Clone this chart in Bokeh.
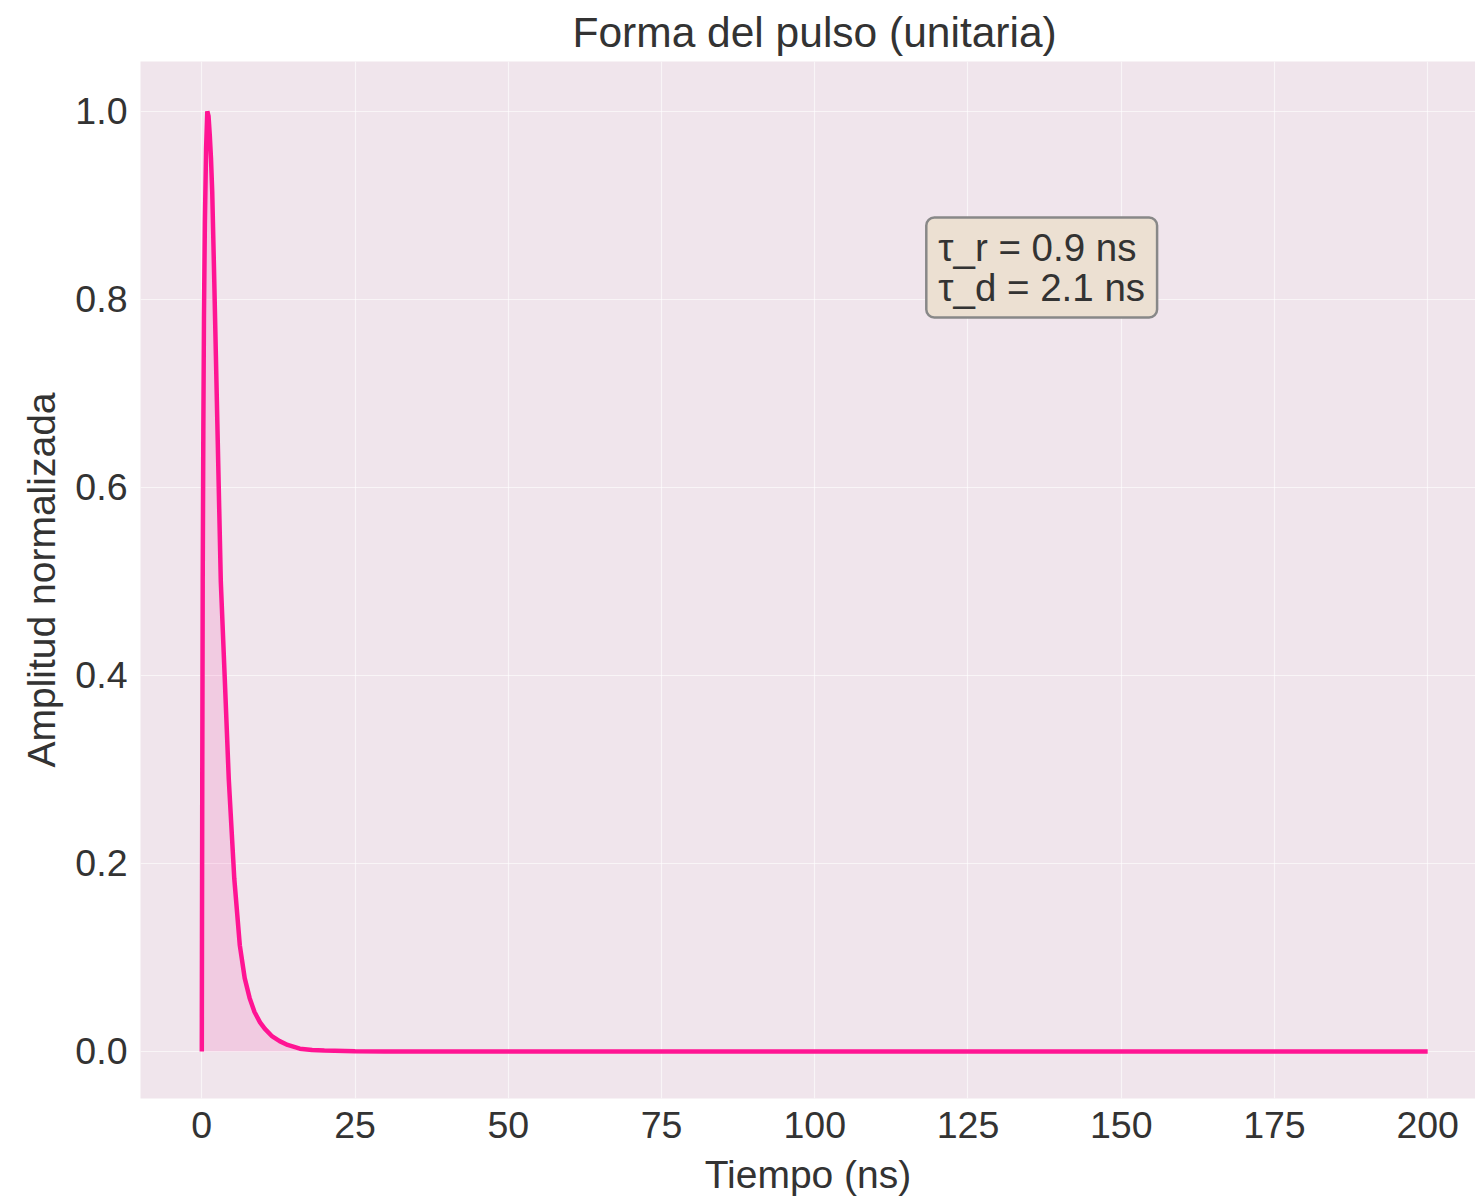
from bokeh.plotting import figure
from bokeh.models import Range1d, Label, FixedTicker, ColumnDataSource
from bokeh.embed import file_html
from bokeh.resources import INLINE

# Data
tiempo_ns = [0.0, 0.03, 0.08, 0.15, 0.25, 0.35, 0.5, 0.7, 0.9, 1.1, 1.3, 1.5, 1.7,
             2.0, 2.3, 2.6, 3.1, 3.75, 4.4, 5.3, 6.2, 7.0, 7.8, 8.6, 9.5, 10.3,
             11.5, 12.7, 14.0, 16.0, 18.0, 20.0, 25.0, 30.0, 50.0, 100.0, 150.0, 200.0]
amplitud = [0.0, 0.12, 0.3, 0.5, 0.66, 0.78, 0.88, 0.96, 1.0, 0.995, 0.975, 0.95, 0.915,
            0.83, 0.74, 0.65, 0.5, 0.396, 0.29, 0.184, 0.113, 0.078, 0.057, 0.042, 0.031, 0.024,
            0.016, 0.011, 0.007, 0.003, 0.0015, 0.001, 0.0003, 0.0, 0.0, 0.0, 0.0, 0.0]
x_ticks = [0, 25, 50, 75, 100, 125, 150, 175, 200]
y_ticks = [0.0, 0.2, 0.4, 0.6, 0.8, 1.0]
tau_r = 0.9
tau_d = 2.1

FONT = "Liberation Sans"
TXT = "#333333"

src = ColumnDataSource(data=dict(t=tiempo_ns, a=amplitud, z=[0.0] * len(tiempo_ns)))

p = figure(width=1475, height=1200, output_backend="svg", toolbar_location=None,
           x_range=Range1d(-10, 207.8), y_range=Range1d(-0.05, 1.053),
           min_border_left=140, min_border_right=0, min_border_top=60, min_border_bottom=102)

p.title.text = "Forma del pulso (unitaria)"
p.title.align = "left"
p.title.text_font = FONT
p.title.text_font_size = "42.5px"
p.title.text_font_style = "normal"
p.title.text_color = TXT
p.title.offset = 432
p.title.standoff = 12

p.background_fill_color = "#f0e5ec"
p.border_fill_color = "white"
p.outline_line_color = None

p.varea(x="t", y1="z", y2="a", source=src, fill_color="#ff1493", fill_alpha=0.12)
p.line(x="t", y="a", source=src, line_color="#ff1493", line_width=4.5)

for ax in (p.xaxis[0], p.yaxis[0]):
    ax.axis_line_color = None
    ax.major_tick_line_color = None
    ax.minor_tick_line_color = None
    ax.major_label_text_font = FONT
    ax.major_label_text_font_size = "37.5px"
    ax.major_label_text_color = TXT
    ax.axis_label_text_font = FONT
    ax.axis_label_text_font_size = "39px"
    ax.axis_label_text_font_style = "normal"
    ax.axis_label_text_color = TXT

p.xaxis.ticker = FixedTicker(ticks=x_ticks)
p.yaxis.ticker = FixedTicker(ticks=y_ticks)
p.xaxis.major_label_overrides = {v: str(v) for v in x_ticks}
p.yaxis.major_label_overrides = {v: f"{v:.1f}" for v in y_ticks}
p.xaxis.major_label_standoff = 7
p.yaxis.major_label_standoff = 7
p.xaxis.axis_label = "Tiempo (ns)"
p.yaxis.axis_label = "Amplitud normalizada"
p.xaxis.axis_label_standoff = 12
p.yaxis.axis_label_standoff = 9

p.xgrid.grid_line_color = "white"
p.ygrid.grid_line_color = "white"
p.xgrid.grid_line_width = 1.2
p.ygrid.grid_line_width = 1.2
p.xgrid.grid_line_alpha = 0.6
p.ygrid.grid_line_alpha = 0.6

lab = Label(x=118.2, y=0.887, x_units="data", y_units="data",
            text=f"τ_r = {tau_r} ns\nτ_d = {tau_d} ns",
            text_font=FONT, text_font_size="38.5px", text_color=TXT,
            text_baseline="top", text_align="left", text_line_height=0.95,
            background_fill_color="#ece0d2", background_fill_alpha=1.0,
            border_line_color="#888888", border_line_width=2.5,
            padding=(12, 8), border_radius=8)
p.add_layout(lab)

open("out.html", "w").write(file_html(p, INLINE))
